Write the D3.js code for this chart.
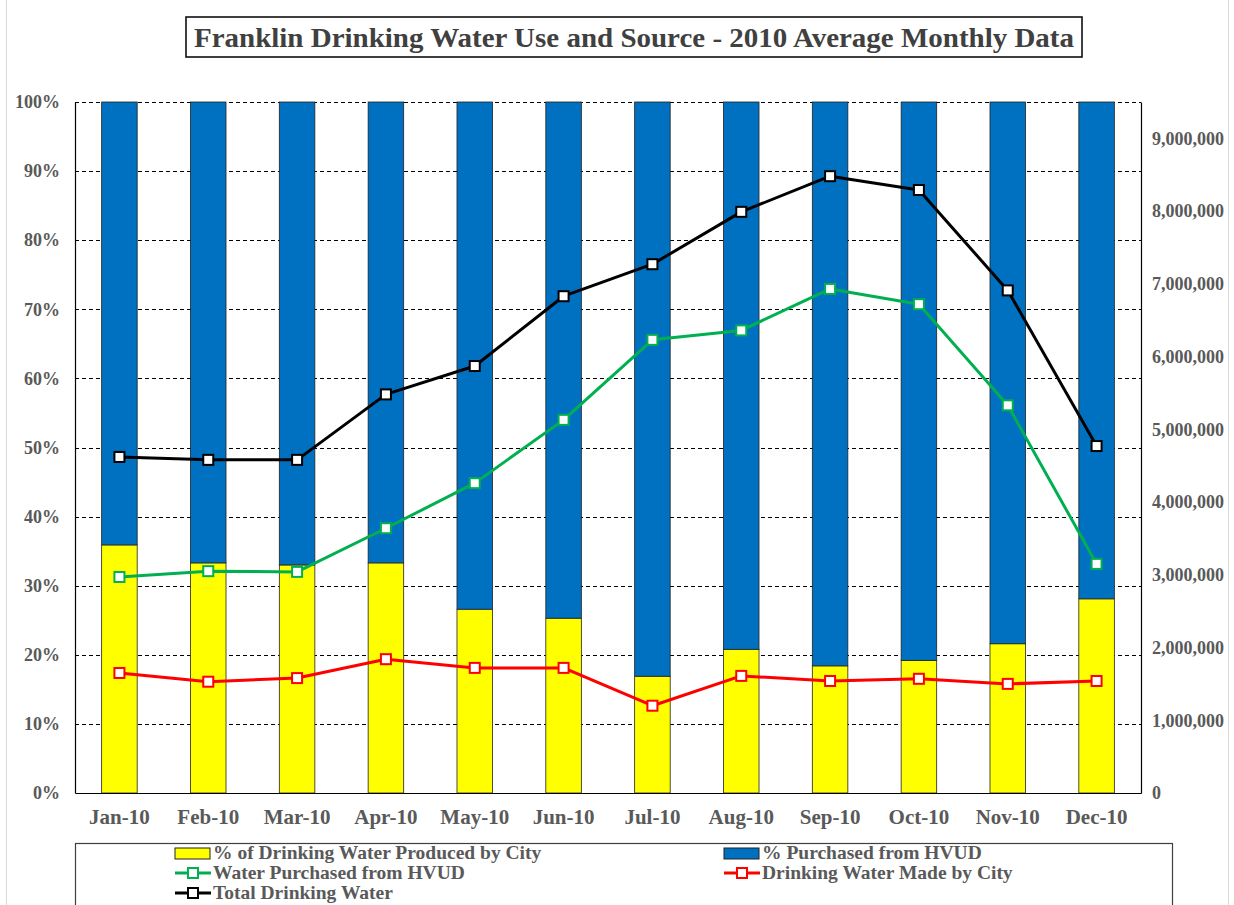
<!DOCTYPE html>
<html>
<head>
<meta charset="utf-8">
<script src="https://cdn.jsdelivr.net/npm/d3@7/dist/d3.min.js"></script>
<style>
  body { margin: 0; background: #fff; }
  svg { display: block; }
</style>
</head>
<body>
<svg width="1234" height="905"></svg>
<script>
// chart data
const months = ['Jan-10', 'Feb-10', 'Mar-10', 'Apr-10', 'May-10', 'Jun-10',
                'Jul-10', 'Aug-10', 'Sep-10', 'Oct-10', 'Nov-10', 'Dec-10'];
const pctCity = [35.9, 33.3, 33.0, 33.3, 26.6, 25.3, 16.9, 20.8, 18.4, 19.2, 21.6, 28.1];
const pctHvud = pctCity.map(d => 100 - d);
const purchasedHvud = [2970000, 3050000, 3040000, 3640000, 4260000, 5130000,
                       6230000, 6360000, 6930000, 6720000, 5330000, 3150000];
const madeByCity = [1650000, 1530000, 1580000, 1840000, 1720000, 1720000,
                    1200000, 1610000, 1540000, 1570000, 1500000, 1540000];
const totalWater = [4620000, 4580000, 4580000, 5480000, 5870000, 6830000,
                    7270000, 7990000, 8480000, 8290000, 6910000, 4770000];
const pctTicks = [0, 10, 20, 30, 40, 50, 60, 70, 80, 90, 100];
const volTicks = [0, 1000000, 2000000, 3000000, 4000000, 5000000,
                  6000000, 7000000, 8000000, 9000000];

const svg = d3.select('svg');
const font = '"Liberation Serif", "Times New Roman", serif';
const grey = '#595959';

const plot = { left: 75, right: 1141, top: 102, bottom: 793 };

// outer chart border
svg.append('rect')
    .attr('x', 6.5).attr('y', -2)
    .attr('width', 1222).attr('height', 920)
    .attr('fill', 'none')
    .attr('stroke', '#d9d9d9');

const x = d3.scaleBand()
    .domain(months)
    .range([plot.left, plot.right])
    .paddingInner(0.6)
    .paddingOuter(0.3);

const yPct = d3.scaleLinear().domain([0, 100]).range([plot.bottom, plot.top]);
const yVol = d3.scaleLinear().domain([0, 9500000]).range([plot.bottom, plot.top]);

// gridlines
svg.append('g')
    .selectAll('line')
    .data(pctTicks.slice(1))
    .enter()
    .append('line')
    .attr('x1', plot.left).attr('x2', plot.right)
    .attr('y1', d => Math.round(yPct(d)) + 0.5)
    .attr('y2', d => Math.round(yPct(d)) + 0.5)
    .attr('stroke', '#000')
    .attr('stroke-dasharray', '4,3');

// stacked bars
const bars = svg.append('g');
bars.selectAll('.city')
    .data(pctCity)
    .enter()
    .append('rect')
    .attr('x', (d, i) => x(months[i]))
    .attr('width', x.bandwidth())
    .attr('y', d => yPct(d))
    .attr('height', d => yPct(0) - yPct(d))
    .attr('fill', '#ffff00')
    .attr('stroke', '#222')
    .attr('stroke-width', 0.8);

bars.selectAll('.hvud')
    .data(pctHvud)
    .enter()
    .append('rect')
    .attr('x', (d, i) => x(months[i]))
    .attr('width', x.bandwidth())
    .attr('y', yPct(100))
    .attr('height', (d, i) => yPct(pctCity[i]) - yPct(100))
    .attr('fill', '#0070c0')
    .attr('stroke', '#222')
    .attr('stroke-width', 0.8);

// axes
const leftAxis = svg.append('g')
    .attr('transform', `translate(${plot.left},0)`)
    .call(d3.axisLeft(yPct).tickValues(pctTicks).tickSize(0).tickPadding(15).tickFormat(d => d + '%'));
const rightAxis = svg.append('g')
    .attr('transform', `translate(${plot.right},0)`)
    .call(d3.axisRight(yVol).tickValues(volTicks).tickSize(0).tickPadding(11).tickFormat(d3.format(',')));
const bottomAxis = svg.append('g')
    .attr('transform', `translate(0,${plot.bottom})`)
    .call(d3.axisBottom(x).tickSize(0).tickPadding(16));

[leftAxis, rightAxis, bottomAxis].forEach(function(a) {
    a.select('.domain').attr('stroke', '#000').attr('stroke-width', 1.2);
    a.selectAll('text')
        .style('font-family', font)
        .style('font-weight', 'bold')
        .style('fill', grey);
});
leftAxis.selectAll('text').style('font-size', '18px');
rightAxis.selectAll('text').style('font-size', '18px');
bottomAxis.selectAll('text').style('font-size', '21px');

// lines
const lineSeries = [
    { values: purchasedHvud, color: '#00b050' },
    { values: madeByCity, color: '#ff0000' },
    { values: totalWater, color: '#000000' }
];
const line = d3.line()
    .x((d, i) => x(months[i]) + x.bandwidth() / 2)
    .y(d => yVol(d));

lineSeries.forEach(function(s) {
    const g = svg.append('g');
    g.append('path')
        .datum(s.values)
        .attr('d', line)
        .attr('fill', 'none')
        .attr('stroke', s.color)
        .attr('stroke-width', 3)
        .attr('stroke-linejoin', 'round');
    g.selectAll('rect')
        .data(s.values)
        .enter()
        .append('rect')
        .attr('x', (d, i) => x(months[i]) + x.bandwidth() / 2 - 5)
        .attr('y', d => yVol(d) - 5)
        .attr('width', 10)
        .attr('height', 10)
        .attr('fill', '#fff')
        .attr('stroke', s.color)
        .attr('stroke-width', 2);
});

// title
svg.append('rect')
    .attr('x', 186).attr('y', 17)
    .attr('width', 896).attr('height', 40)
    .attr('fill', '#fff')
    .attr('stroke', '#000')
    .attr('stroke-width', 1.5);
svg.append('text')
    .attr('x', 634).attr('y', 47)
    .attr('text-anchor', 'middle')
    .attr('textLength', 880)
    .attr('lengthAdjust', 'spacingAndGlyphs')
    .style('font-family', font)
    .style('font-weight', 'bold')
    .style('font-size', '27px')
    .style('fill', '#404040')
    .text('Franklin Drinking Water Use and Source - 2010 Average Monthly Data');

// legend
const legendBox = svg.append('g');
legendBox.append('rect')
    .attr('x', 75.5).attr('y', 843.5)
    .attr('width', 1097).attr('height', 70)
    .attr('fill', '#fff')
    .attr('stroke', '#404040')
    .attr('stroke-width', 1.2);

const legendItems = [
    { label: '% of Drinking Water Produced by City', type: 'bar', color: '#ffff00', x: 175, y: 853 },
    { label: '% Purchased from HVUD', type: 'bar', color: '#0070c0', x: 724, y: 853 },
    { label: 'Water Purchased from HVUD', type: 'line', color: '#00b050', x: 175, y: 873 },
    { label: 'Drinking Water Made by City', type: 'line', color: '#ff0000', x: 724, y: 873 },
    { label: 'Total Drinking Water', type: 'line', color: '#000000', x: 175, y: 893 }
];

const item = legendBox.selectAll('.legend')
    .data(legendItems)
    .enter()
    .append('g')
    .attr('class', 'legend')
    .attr('transform', d => `translate(${d.x},${d.y})`);

item.filter(d => d.type === 'bar')
    .append('rect')
    .attr('x', 0).attr('y', -5)
    .attr('width', 35).attr('height', 11)
    .attr('fill', d => d.color)
    .attr('stroke', '#222');

item.filter(d => d.type === 'line')
    .append('line')
    .attr('x1', 0).attr('x2', 36)
    .attr('stroke', d => d.color)
    .attr('stroke-width', 3);
item.filter(d => d.type === 'line')
    .append('rect')
    .attr('x', 13).attr('y', -5)
    .attr('width', 10).attr('height', 10)
    .attr('fill', '#fff')
    .attr('stroke', d => d.color)
    .attr('stroke-width', 2);

item.append('text')
    .attr('x', 38)
    .attr('y', 6)
    .style('font-family', font)
    .style('font-weight', 'bold')
    .style('font-size', '19.5px')
    .style('fill', grey)
    .text(d => d.label);
</script>
</body>
</html>
